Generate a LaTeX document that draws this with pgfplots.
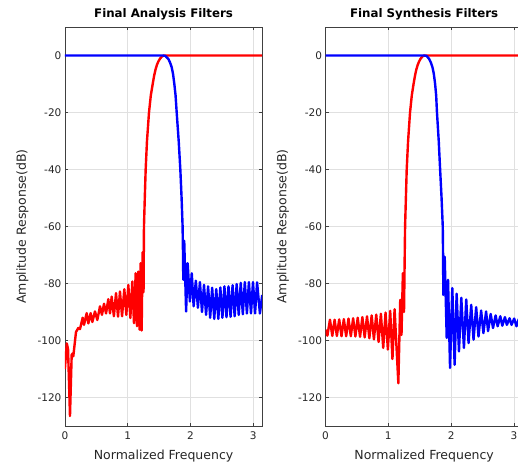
\documentclass[border=0pt]{standalone}
\usepackage{pgfplots}
\pgfplotsset{compat=1.18}
\usepackage{fontspec}
\setmainfont{DejaVu Sans}
\definecolor{axgray}{rgb}{0.25,0.25,0.25}
\definecolor{gridgray}{rgb}{0.88,0.88,0.88}
\pgfplotsset{
  every axis title shift=0pt,
  mystyle/.style={
    scale only axis, width=197.3pt, height=399pt, anchor=south west,
    xmin=0, xmax=3.14159, ymin=-130, ymax=10,
    xtick={0,1,2,3}, ytick={-120,-100,-80,-60,-40,-20,0},
    grid=major, major grid style={gridgray, line width=0.5pt},
    axis line style={axgray, line width=0.5pt},
    tick style={axgray, line width=0.5pt}, tick align=inside,
    major tick length=3pt,
    tick label style={font=\fontsize{10.5}{12}\selectfont, text=black!85},
    xticklabel style={yshift=-2pt},
    /pgf/number format/assume math mode=true,
    xlabel={Normalized Frequency}, ylabel={Amplitude Response(dB)},
    label style={font=\fontsize{12.5}{14}\selectfont, text=black!85},
    xlabel style={at={(axis description cs:0.5,-0.0764)}, anchor=center},
    ylabel style={at={(axis description cs:-0.2154,0.5)}, anchor=center},
    title style={font=\bfseries\fontsize{11.8}{13}\selectfont, at={(axis description cs:0.5,1.0326)}, anchor=center},
    every axis plot/.append style={line width=2.4pt, line join=round},
  }
}
\begin{document}
\begin{tikzpicture}
\begin{axis}[mystyle, at={(64.9pt,41pt)}, title={Final Analysis Filters}]
\addplot[red] coordinates {
(0.000,-110) (0.030,-101) (0.050,-103) (0.081,-126.5) (0.108,-105) (0.125,-104.5) (0.134,-105.5)
(0.177,-97) (0.214,-95.6) (0.240,-96) (0.283,-92) (0.304,-94.5) (0.347,-90.4) (0.373,-94)
(0.410,-90.4) (0.437,-93.5) (0.479,-89.8) (0.516,-92.8) (0.559,-88) (0.590,-91) (0.623,-87.1)
(0.655,-90.5) (0.691,-85.5) (0.718,-90.5) (0.745,-84.6) (0.780,-91.5) (0.814,-83.4) (0.846,-91.6)
(0.877,-82.8) (0.910,-91.5) (0.946,-82) (0.978,-91) (1.010,-80.5) (1.042,-92.1) (1.074,-79.3)
(1.100,-93.9) (1.127,-76.4) (1.148,-95) (1.169,-75.8) (1.190,-96.2) (1.206,-72.9) (1.222,-96.5)
(1.237,-69) (1.252,-83) (1.259,-60) (1.272,-50) (1.286,-40) (1.307,-30) (1.339,-20) (1.368,-14)
(1.398,-10) (1.420,-7.2) (1.442,-5) (1.465,-3.3) (1.488,-2.1) (1.515,-1.1) (1.545,-0.35) (1.578,0) (3.1416,0)
};
\addplot[blue] coordinates {
(0,0) (1.560,0) (1.600,-0.15) (1.647,-1.2) (1.675,-2.5) (1.700,-4.1) (1.722,-6.5) (1.742,-9.9)
(1.762,-14) (1.780,-20) (1.812,-30) (1.838,-40) (1.858,-50) (1.874,-60) (1.881,-70) (1.885,-78.7) (1.900,-65)
(1.930,-89.8) (1.955,-72.9) (1.990,-86.3) (2.020,-76.4) (2.050,-88) (2.085,-79) (2.118,-88.5)
(2.150,-79.5) (2.183,-90) (2.215,-80.5) (2.248,-91) (2.280,-81) (2.313,-92) (2.345,-81.5)
(2.378,-92.4) (2.410,-82) (2.443,-92.4) (2.475,-81.4) (2.508,-92) (2.540,-81) (2.573,-91.8)
(2.605,-81) (2.638,-91.7) (2.670,-80.6) (2.703,-91.5) (2.735,-80.2) (2.768,-91) (2.800,-79.8)
(2.833,-90.8) (2.865,-79.5) (2.898,-90.5) (2.930,-79.5) (2.963,-90.5) (2.995,-79.5) (3.028,-90.5)
(3.060,-79.6) (3.105,-90.5) (3.1416,-84)
};
\end{axis}
\begin{axis}[mystyle, at={(325.5pt,41pt)}, title={Final Synthesis Filters}]
\addplot[red] coordinates {
(0.000,-96.2) (0.030,-98.3) (0.071,-92.7) (0.108,-98.4) (0.145,-92.7) (0.181,-98.4) (0.218,-92.6)
(0.255,-98.5) (0.292,-92.5) (0.329,-98.5) (0.366,-92.3) (0.403,-98.5) (0.440,-92.2) (0.476,-98.6)
(0.513,-92) (0.550,-98.7) (0.587,-91.8) (0.624,-98.9) (0.661,-91.5) (0.698,-99.2) (0.735,-91.2)
(0.771,-99.6) (0.808,-90.9) (0.845,-100.5) (0.882,-90.6) (0.919,-102.6) (0.956,-90.2) (0.993,-103.2)
(1.030,-89.6) (1.066,-106.5) (1.100,-89) (1.160,-115) (1.190,-85.7) (1.210,-98) (1.232,-76.4)
(1.250,-90) (1.267,-60) (1.280,-50) (1.293,-40) (1.315,-30) (1.346,-20) (1.374,-14) (1.402,-10)
(1.424,-7.2) (1.445,-5) (1.468,-3.3) (1.490,-2.1) (1.515,-1.1) (1.545,-0.3) (1.575,0) (3.1416,0)
};
\addplot[blue] coordinates {
(0,0) (1.570,0) (1.610,-0.15) (1.650,-1.2) (1.678,-2.5) (1.703,-4.1) (1.725,-6.5) (1.745,-9.9)
(1.762,-14) (1.775,-20) (1.803,-30) (1.825,-40) (1.848,-50) (1.867,-60) (1.872,-70) (1.876,-84) (1.898,-70.6) (1.930,-99.1)
(1.951,-78.7) (1.983,-109.6) (2.019,-81.6) (2.056,-108.5) (2.088,-83.6) (2.125,-103.8) (2.162,-85)
(2.204,-102.6) (2.241,-85.6) (2.278,-100.9) (2.320,-87.5) (2.357,-99.7) (2.399,-88.3) (2.436,-98.6)
(2.478,-89.5) (2.514,-97.4) (2.557,-89.8) (2.588,-96.7) (2.630,-90.7) (2.667,-95.6) (2.709,-91.2)
(2.741,-95) (2.783,-91.5) (2.815,-94.8) (2.857,-91.8) (2.888,-94.5) (2.931,-92.2) (2.962,-94.5)
(3.004,-92.3) (3.041,-95) (3.077,-92.5) (3.110,-94.8) (3.1416,-93)
};
\end{axis}
\pgfresetboundingbox
\useasboundingbox (0,0) rectangle (518pt,467pt);
\end{tikzpicture}
\end{document}
